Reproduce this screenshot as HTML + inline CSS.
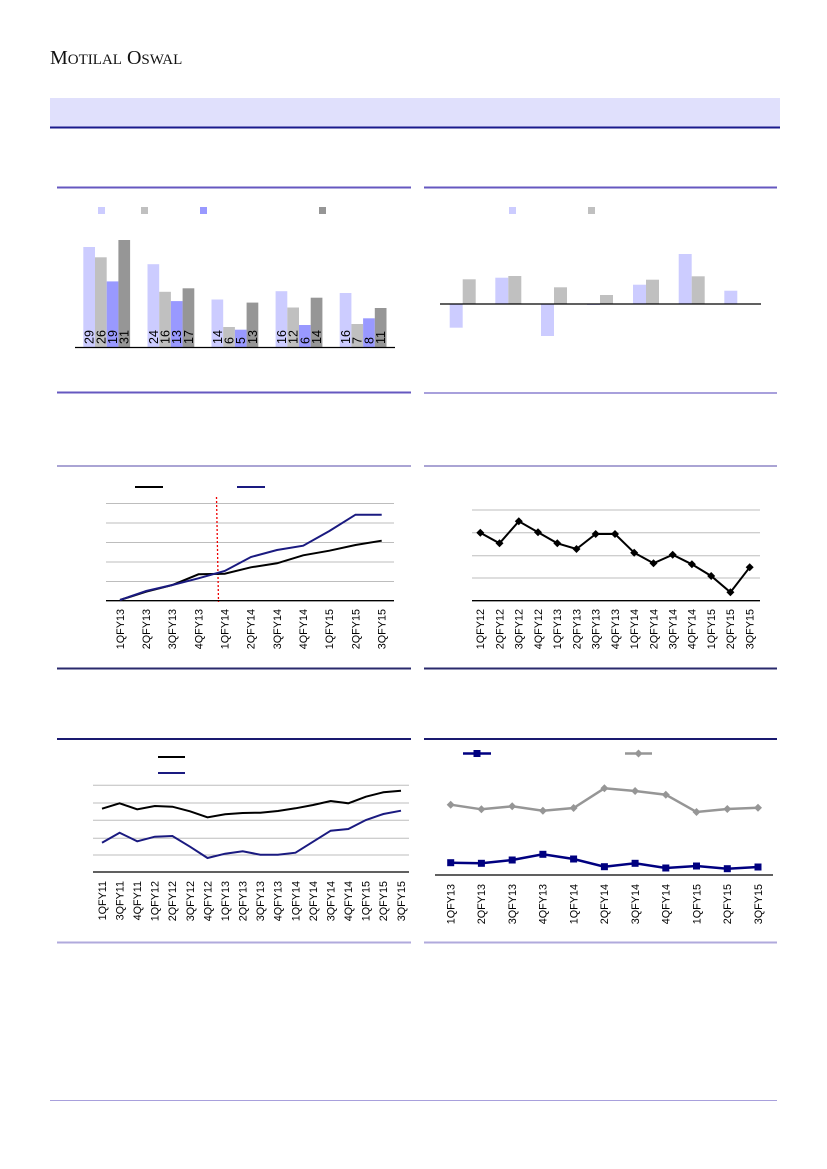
<!DOCTYPE html>
<html><head><meta charset="utf-8"><style>
html,body{margin:0;padding:0;background:#fff}
svg{display:block}
text{font-family:"Liberation Sans",sans-serif}
.t{font-size:10.8px;fill:#000}
.b{font-size:12.5px;fill:#000}
</style></head><body>
<svg width="827" height="1169" viewBox="0 0 827 1169" xmlns="http://www.w3.org/2000/svg">
<!-- header -->
<text x="50" y="64" style="font-family:'Liberation Serif',serif;font-size:20px;fill:#111">M<tspan font-size="15">OTILAL</tspan> O<tspan font-size="15">SWAL</tspan></text>
<rect x="50" y="98" width="730" height="29" fill="#e0e0fc"/>
<line x1="50" y1="127.5" x2="780" y2="127.5" stroke="#1a1a8c" stroke-width="2"/>
<!-- panel separators -->
<g stroke-width="2">
<line x1="57" y1="187.5" x2="411" y2="187.5" stroke="#6658c0"/>
<line x1="424" y1="187.5" x2="777" y2="187.5" stroke="#6658c0"/>
<line x1="57" y1="392.5" x2="411" y2="392.5" stroke="#6658c0"/>
<line x1="424" y1="393" x2="777" y2="393" stroke="#a8a0dc"/>
<line x1="57" y1="466" x2="411" y2="466" stroke="#aaa4d4"/>
<line x1="424" y1="466" x2="777" y2="466" stroke="#aaa4d4"/>
<line x1="57" y1="668.5" x2="411" y2="668.5" stroke="#2a2a6c"/>
<line x1="424" y1="668.5" x2="777" y2="668.5" stroke="#2a2a6c"/>
<line x1="57" y1="739" x2="411" y2="739" stroke="#1a1a70"/>
<line x1="424" y1="739" x2="777" y2="739" stroke="#1a1a70"/>
<line x1="57" y1="942.5" x2="411" y2="942.5" stroke="#b0aadc"/>
<line x1="424" y1="942.5" x2="777" y2="942.5" stroke="#b0aadc"/>
</g>
<line x1="50" y1="1100.5" x2="777" y2="1100.5" stroke="#a8a0dc" stroke-width="1"/>

<!-- chart 1 -->
<rect x="98" y="207" width="7" height="7" fill="#ccccff"/>
<rect x="141" y="207" width="7" height="7" fill="#c0c0c0"/>
<rect x="200" y="207" width="7" height="7" fill="#9999ff"/>
<rect x="319" y="207" width="7" height="7" fill="#969696"/>
<g>
<rect x="83.3" y="247" width="11.7" height="100" fill="#ccccff"/>
<rect x="95" y="257.3" width="11.7" height="89.7" fill="#c0c0c0"/>
<rect x="106.7" y="281.4" width="11.7" height="65.6" fill="#9999ff"/>
<rect x="118.4" y="240" width="11.7" height="107" fill="#969696"/>
<rect x="147.5" y="264.2" width="11.7" height="82.8" fill="#ccccff"/>
<rect x="159.2" y="291.8" width="11.7" height="55.2" fill="#c0c0c0"/>
<rect x="170.9" y="301.1" width="11.7" height="45.9" fill="#9999ff"/>
<rect x="182.6" y="288.3" width="11.7" height="58.7" fill="#969696"/>
<rect x="211.5" y="299.5" width="11.7" height="47.5" fill="#ccccff"/>
<rect x="223.2" y="327" width="11.7" height="20" fill="#c0c0c0"/>
<rect x="234.9" y="329.7" width="11.7" height="17.3" fill="#9999ff"/>
<rect x="246.6" y="302.6" width="11.7" height="44.4" fill="#969696"/>
<rect x="275.6" y="291.2" width="11.7" height="55.8" fill="#ccccff"/>
<rect x="287.3" y="307.5" width="11.7" height="39.5" fill="#c0c0c0"/>
<rect x="299" y="325" width="11.7" height="22" fill="#9999ff"/>
<rect x="310.7" y="297.7" width="11.7" height="49.3" fill="#969696"/>
<rect x="339.7" y="293" width="11.7" height="54" fill="#ccccff"/>
<rect x="351.4" y="324" width="11.7" height="23" fill="#c0c0c0"/>
<rect x="363.1" y="318.3" width="11.7" height="28.7" fill="#9999ff"/>
<rect x="374.8" y="308" width="11.7" height="39" fill="#969696"/>
</g>
<line x1="75" y1="347.5" x2="395" y2="347.5" stroke="#000" stroke-width="1.3"/>
<g class="b">
<text transform="translate(93.6,344) rotate(-90)">29</text>
<text transform="translate(105.3,344) rotate(-90)">26</text>
<text transform="translate(117,344) rotate(-90)">19</text>
<text transform="translate(128.7,344) rotate(-90)">31</text>
<text transform="translate(157.8,344) rotate(-90)">24</text>
<text transform="translate(169.5,344) rotate(-90)">16</text>
<text transform="translate(181.2,344) rotate(-90)">13</text>
<text transform="translate(192.9,344) rotate(-90)">17</text>
<text transform="translate(221.8,344) rotate(-90)">14</text>
<text transform="translate(233.5,344) rotate(-90)">6</text>
<text transform="translate(245.2,344) rotate(-90)">5</text>
<text transform="translate(256.9,344) rotate(-90)">13</text>
<text transform="translate(285.9,344) rotate(-90)">16</text>
<text transform="translate(297.6,344) rotate(-90)">12</text>
<text transform="translate(309.3,344) rotate(-90)">6</text>
<text transform="translate(321,344) rotate(-90)">14</text>
<text transform="translate(350,344) rotate(-90)">16</text>
<text transform="translate(361.7,344) rotate(-90)">7</text>
<text transform="translate(373.4,344) rotate(-90)">8</text>
<text transform="translate(385.1,344) rotate(-90)">11</text>
</g>

<!-- chart 2 -->
<rect x="509" y="207" width="7" height="7" fill="#ccccff"/>
<rect x="588" y="207" width="7" height="7" fill="#c0c0c0"/>
<rect x="449.7" y="304" width="13" height="23.7" fill="#ccccff"/>
<rect x="462.7" y="279.3" width="13" height="24.7" fill="#c0c0c0"/>
<rect x="495.3" y="277.7" width="13" height="26.3" fill="#ccccff"/>
<rect x="508.3" y="276" width="13" height="28" fill="#c0c0c0"/>
<rect x="541" y="304" width="13" height="32" fill="#ccccff"/>
<rect x="554" y="287.3" width="13" height="16.7" fill="#c0c0c0"/>
<rect x="587" y="304" width="13" height="1" fill="#ccccff"/>
<rect x="600" y="295" width="13" height="9" fill="#c0c0c0"/>
<rect x="633" y="284.7" width="13" height="19.3" fill="#ccccff"/>
<rect x="646" y="279.7" width="13" height="24.3" fill="#c0c0c0"/>
<rect x="678.7" y="254" width="13" height="50" fill="#ccccff"/>
<rect x="691.7" y="276.3" width="13" height="27.7" fill="#c0c0c0"/>
<rect x="724.3" y="290.7" width="13" height="13.3" fill="#ccccff"/>
<line x1="440" y1="304" x2="761" y2="304" stroke="#000" stroke-width="1.3"/>

<!-- chart 3 -->
<line x1="135" y1="487" x2="163" y2="487" stroke="#000" stroke-width="2"/>
<line x1="237" y1="487" x2="265" y2="487" stroke="#1a1a80" stroke-width="2"/>
<g stroke="#bdbdbd" stroke-width="1">
<line x1="106" y1="503.5" x2="394" y2="503.5"/><line x1="106" y1="523" x2="394" y2="523"/><line x1="106" y1="542.5" x2="394" y2="542.5"/><line x1="106" y1="562" x2="394" y2="562"/><line x1="106" y1="581.5" x2="394" y2="581.5"/>
</g>
<line x1="106" y1="600.7" x2="394" y2="600.7" stroke="#000" stroke-width="1.3"/>
<line x1="216.5" y1="497" x2="218.5" y2="602" stroke="#e00" stroke-width="1.3" stroke-dasharray="2,2"/>
<polyline fill="none" stroke="#000" stroke-width="2" points="120,600 146.2,591.7 172.3,585 198.5,574.3 224.7,573.7 250.9,567.3 277,563.3 303.2,555.3 329.4,550.7 355.5,545 381.7,540.7"/>
<polyline fill="none" stroke="#1a1a80" stroke-width="2" points="120,600 146.2,591 172.3,585 198.5,578.3 224.7,571 250.9,557 277,550 303.2,545.7 329.4,531 355.5,514.7 381.7,514.7"/>
<g class="t" text-anchor="end">
<text transform="translate(123.8,609) rotate(-90)">1QFY13</text>
<text transform="translate(150,609) rotate(-90)">2QFY13</text>
<text transform="translate(176.1,609) rotate(-90)">3QFY13</text>
<text transform="translate(202.3,609) rotate(-90)">4QFY13</text>
<text transform="translate(228.5,609) rotate(-90)">1QFY14</text>
<text transform="translate(254.7,609) rotate(-90)">2QFY14</text>
<text transform="translate(280.8,609) rotate(-90)">3QFY14</text>
<text transform="translate(307,609) rotate(-90)">4QFY14</text>
<text transform="translate(333.2,609) rotate(-90)">1QFY15</text>
<text transform="translate(359.3,609) rotate(-90)">2QFY15</text>
<text transform="translate(385.5,609) rotate(-90)">3QFY15</text>
</g>

<!-- chart 4 -->
<g stroke="#bdbdbd" stroke-width="1">
<line x1="472" y1="510" x2="760" y2="510"/><line x1="472" y1="532.7" x2="760" y2="532.7"/><line x1="472" y1="555.7" x2="760" y2="555.7"/><line x1="472" y1="578" x2="760" y2="578"/>
</g>
<line x1="472" y1="600.7" x2="760" y2="600.7" stroke="#000" stroke-width="1.3"/>
<polyline fill="none" stroke="#000" stroke-width="2" points="480.3,532.7 499.5,543.3 518.8,521.3 538,532.3 557.3,543.3 576.5,549 595.7,534 615,534 634.2,552.7 653.5,563.3 672.7,554.7 691.9,564.3 711.2,576 730.4,592.3 749.7,567.3"/>
<g fill="#000">
<path d="M480.3,528.7l4,4l-4,4l-4,-4z"/><path d="M499.5,539.3l4,4l-4,4l-4,-4z"/><path d="M518.8,517.3l4,4l-4,4l-4,-4z"/><path d="M538,528.3l4,4l-4,4l-4,-4z"/><path d="M557.3,539.3l4,4l-4,4l-4,-4z"/><path d="M576.5,545l4,4l-4,4l-4,-4z"/><path d="M595.7,530l4,4l-4,4l-4,-4z"/><path d="M615,530l4,4l-4,4l-4,-4z"/><path d="M634.2,548.7l4,4l-4,4l-4,-4z"/><path d="M653.5,559.3l4,4l-4,4l-4,-4z"/><path d="M672.7,550.7l4,4l-4,4l-4,-4z"/><path d="M691.9,560.3l4,4l-4,4l-4,-4z"/><path d="M711.2,572l4,4l-4,4l-4,-4z"/><path d="M730.4,588.3l4,4l-4,4l-4,-4z"/><path d="M749.7,563.3l4,4l-4,4l-4,-4z"/>
</g>
<g class="t" text-anchor="end">
<text transform="translate(484.1,609) rotate(-90)">1QFY12</text>
<text transform="translate(503.3,609) rotate(-90)">2QFY12</text>
<text transform="translate(522.6,609) rotate(-90)">3QFY12</text>
<text transform="translate(541.8,609) rotate(-90)">4QFY12</text>
<text transform="translate(561.1,609) rotate(-90)">1QFY13</text>
<text transform="translate(580.3,609) rotate(-90)">2QFY13</text>
<text transform="translate(599.5,609) rotate(-90)">3QFY13</text>
<text transform="translate(618.8,609) rotate(-90)">4QFY13</text>
<text transform="translate(638,609) rotate(-90)">1QFY14</text>
<text transform="translate(657.3,609) rotate(-90)">2QFY14</text>
<text transform="translate(676.5,609) rotate(-90)">3QFY14</text>
<text transform="translate(695.7,609) rotate(-90)">4QFY14</text>
<text transform="translate(715,609) rotate(-90)">1QFY15</text>
<text transform="translate(734.2,609) rotate(-90)">2QFY15</text>
<text transform="translate(753.5,609) rotate(-90)">3QFY15</text>
</g>

<!-- chart 5 -->
<line x1="158" y1="757" x2="185" y2="757" stroke="#000" stroke-width="2"/>
<line x1="158" y1="773" x2="185" y2="773" stroke="#1a1a80" stroke-width="2"/>
<g stroke="#bdbdbd" stroke-width="1">
<line x1="93" y1="785.3" x2="409" y2="785.3"/><line x1="93" y1="803" x2="409" y2="803"/><line x1="93" y1="820.3" x2="409" y2="820.3"/><line x1="93" y1="838.3" x2="409" y2="838.3"/><line x1="93" y1="855" x2="409" y2="855"/>
</g>
<line x1="93" y1="872" x2="409" y2="872" stroke="#000" stroke-width="1.3"/>
<polyline fill="none" stroke="#000" stroke-width="2" points="102,808.7 119.6,803.3 137.2,809.3 154.8,806 172.4,806.7 190,811.3 207.5,817.3 225.1,814.3 242.7,813 260.3,812.7 277.9,811 295.5,808.3 313.1,805 330.7,801 348.3,803.3 365.9,796.7 383.4,792.3 401,790.7"/>
<polyline fill="none" stroke="#1a1a80" stroke-width="2" points="102,842.7 119.6,832.7 137.2,841.3 154.8,836.7 172.4,836 190,846.7 207.5,858 225.1,853.7 242.7,851.3 260.3,854.7 277.9,854.7 295.5,852.7 313.1,841.7 330.7,830.7 348.3,829 365.9,820 383.4,814 401,810.7"/>
<g class="t" text-anchor="end">
<text transform="translate(105.8,881) rotate(-90)">1QFY11</text>
<text transform="translate(123.4,881) rotate(-90)">3QFY11</text>
<text transform="translate(141,881) rotate(-90)">4QFY11</text>
<text transform="translate(158.6,881) rotate(-90)">1QFY12</text>
<text transform="translate(176.2,881) rotate(-90)">2QFY12</text>
<text transform="translate(193.8,881) rotate(-90)">3QFY12</text>
<text transform="translate(211.3,881) rotate(-90)">4QFY12</text>
<text transform="translate(228.9,881) rotate(-90)">1QFY13</text>
<text transform="translate(246.5,881) rotate(-90)">2QFY13</text>
<text transform="translate(264.1,881) rotate(-90)">3QFY13</text>
<text transform="translate(281.7,881) rotate(-90)">4QFY13</text>
<text transform="translate(299.3,881) rotate(-90)">1QFY14</text>
<text transform="translate(316.9,881) rotate(-90)">2QFY14</text>
<text transform="translate(334.5,881) rotate(-90)">3QFY14</text>
<text transform="translate(352.1,881) rotate(-90)">4QFY14</text>
<text transform="translate(369.7,881) rotate(-90)">1QFY15</text>
<text transform="translate(387.2,881) rotate(-90)">2QFY15</text>
<text transform="translate(404.8,881) rotate(-90)">3QFY15</text>
</g>

<!-- chart 6 -->
<line x1="463" y1="753.5" x2="491" y2="753.5" stroke="#000080" stroke-width="2.5"/>
<rect x="473.5" y="750" width="7" height="7" fill="#000080"/>
<line x1="625" y1="753.5" x2="652" y2="753.5" stroke="#969696" stroke-width="2.5"/>
<path d="M638.5,749.5l4,4l-4,4l-4,-4z" fill="#969696"/>
<line x1="435" y1="875" x2="773" y2="875" stroke="#000" stroke-width="1.3"/>
<polyline fill="none" stroke="#969696" stroke-width="2.5" points="450.7,804.7 481.4,809.3 512.2,806.3 542.9,810.7 573.6,808 604.4,788.3 635.1,791 665.8,794.7 696.5,812 727.3,809 758,807.7"/>
<g fill="#969696">
<path d="M450.7,800.7l4,4l-4,4l-4,-4z"/><path d="M481.4,805.3l4,4l-4,4l-4,-4z"/><path d="M512.2,802.3l4,4l-4,4l-4,-4z"/><path d="M542.9,806.7l4,4l-4,4l-4,-4z"/><path d="M573.6,804l4,4l-4,4l-4,-4z"/><path d="M604.4,784.3l4,4l-4,4l-4,-4z"/><path d="M635.1,787l4,4l-4,4l-4,-4z"/><path d="M665.8,790.7l4,4l-4,4l-4,-4z"/><path d="M696.5,808l4,4l-4,4l-4,-4z"/><path d="M727.3,805l4,4l-4,4l-4,-4z"/><path d="M758,803.7l4,4l-4,4l-4,-4z"/>
</g>
<polyline fill="none" stroke="#000080" stroke-width="2.5" points="450.7,862.7 481.4,863.3 512.2,860 542.9,854.3 573.6,859 604.4,866.7 635.1,863.3 665.8,868 696.5,866 727.3,868.7 758,867"/>
<g fill="#000080">
<rect x="447.2" y="859.2" width="7" height="7"/><rect x="477.9" y="859.8" width="7" height="7"/><rect x="508.7" y="856.5" width="7" height="7"/><rect x="539.4" y="850.8" width="7" height="7"/><rect x="570.1" y="855.5" width="7" height="7"/><rect x="600.9" y="863.2" width="7" height="7"/><rect x="631.6" y="859.8" width="7" height="7"/><rect x="662.3" y="864.5" width="7" height="7"/><rect x="693" y="862.5" width="7" height="7"/><rect x="723.8" y="865.2" width="7" height="7"/><rect x="754.5" y="863.5" width="7" height="7"/>
</g>
<g class="t" text-anchor="end">
<text transform="translate(454.5,884) rotate(-90)">1QFY13</text>
<text transform="translate(485.2,884) rotate(-90)">2QFY13</text>
<text transform="translate(516,884) rotate(-90)">3QFY13</text>
<text transform="translate(546.7,884) rotate(-90)">4QFY13</text>
<text transform="translate(577.4,884) rotate(-90)">1QFY14</text>
<text transform="translate(608.2,884) rotate(-90)">2QFY14</text>
<text transform="translate(638.9,884) rotate(-90)">3QFY14</text>
<text transform="translate(669.6,884) rotate(-90)">4QFY14</text>
<text transform="translate(700.3,884) rotate(-90)">1QFY15</text>
<text transform="translate(731.1,884) rotate(-90)">2QFY15</text>
<text transform="translate(761.8,884) rotate(-90)">3QFY15</text>
</g>
</svg>
</body></html>
